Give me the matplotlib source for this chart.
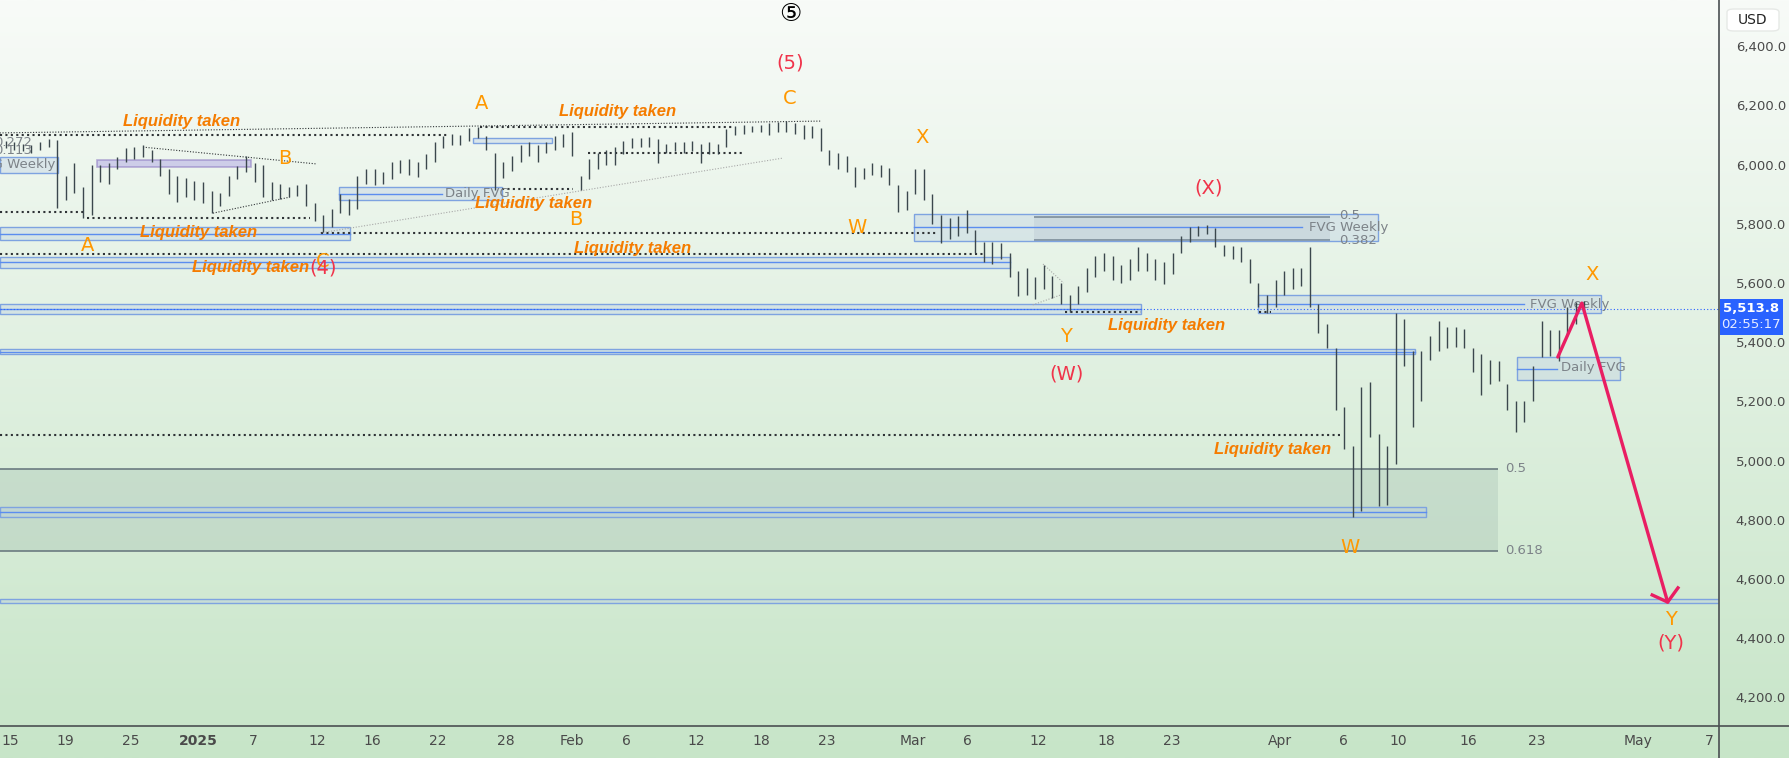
import numpy as np
import matplotlib.pyplot as plt
from matplotlib.patches import Rectangle, FancyBboxPatch
from matplotlib.lines import Line2D

plt.rcParams['font.family'] = ['DejaVu Sans', 'Noto Sans CJK JP']

# two bars per trading session, first pair is the Dec 13 session (day -1)
highs = [
    6072, 6080, 6075, 6070, 6065, 6075, 6085, 6083, 5960, 6005,
    5925, 6000, 6000, 6005, 6025, 6055, 6060, 6065, 6050, 6020,
    5985, 5960, 5955, 5945, 5940, 5910, 5905, 5960, 5995, 6030,
    6005, 6000, 5940, 5935, 5925, 5930, 5935, 5870, 5830, 5850,
    5900, 5885, 5960, 5985, 5985, 5975, 6010, 6015, 6020, 6010,
    6035, 6075, 6095, 6105, 6100, 6125, 6128, 6095, 6040, 6010,
    6030, 6065, 6076, 6065, 6075, 6095, 6105, 6110, 5960, 6020,
    6040, 6050, 6060, 6080, 6090, 6090, 6092, 6085, 6070, 6075,
    6075, 6080, 6070, 6075, 6070, 6120, 6130, 6135, 6130, 6135,
    6140, 6145, 6147, 6140, 6135, 6130, 6125, 6050, 6040, 6030,
    5992, 5990, 6005, 6000, 5990, 5930, 5910, 5985, 5985, 5900,
    5830, 5820, 5825, 5845, 5780, 5740, 5740, 5735, 5700, 5640,
    5650, 5620, 5660, 5625, 5600, 5560, 5590, 5650, 5690, 5700,
    5690, 5660, 5680, 5720, 5700, 5680, 5670, 5700, 5760, 5790,
    5792, 5795, 5785, 5730, 5725, 5720, 5680, 5600, 5560, 5610,
    5640, 5650, 5650, 5720, 5530, 5460, 5380, 5180, 5050, 5250,
    5265, 5090, 5050, 5500, 5480, 5370, 5370, 5420, 5470, 5450,
    5450, 5445, 5380, 5360, 5340, 5335, 5260, 5200, 5200, 5320,
    5470, 5440, 5440, 5520, 5535, 5540,
]
lows = [
    6048, 6055, 6050, 6045, 6040, 6050, 6060, 5853, 5880, 5905,
    5820, 5830, 5940, 5935, 5985, 6010, 6020, 6025, 6010, 5960,
    5900, 5875, 5890, 5880, 5870, 5835, 5860, 5895, 5950, 5975,
    5940, 5890, 5880, 5885, 5890, 5895, 5860, 5810, 5772, 5790,
    5835, 5830, 5850, 5935, 5930, 5935, 5950, 5970, 5965, 5958,
    5985, 6010, 6055, 6065, 6065, 6080, 6090, 6050, 5914, 5955,
    5980, 6010, 6030, 6010, 6040, 6050, 6060, 6030, 5914, 5950,
    5985, 6000, 6000, 6035, 6055, 6060, 6060, 6005, 6040, 6045,
    6040, 6045, 6005, 6035, 6035, 6060, 6100, 6105, 6110, 6110,
    6100, 6110, 6110, 6105, 6085, 6090, 6045, 6000, 5985, 5975,
    5925, 5950, 5965, 5958, 5930, 5840, 5845, 5900, 5880, 5800,
    5735, 5750, 5760, 5770, 5700, 5670, 5665, 5680, 5620, 5555,
    5560, 5545, 5580, 5550, 5530, 5502, 5530, 5570, 5620, 5640,
    5610, 5600, 5610, 5640, 5640, 5610, 5597, 5630, 5700, 5740,
    5760, 5765, 5720, 5690, 5680, 5670, 5600, 5520, 5499, 5520,
    5560, 5580, 5590, 5520, 5430, 5380, 5170, 5040, 4810, 4830,
    5080, 4845, 4850, 4990, 5320, 5115, 5200, 5340, 5370, 5380,
    5385, 5380, 5300, 5220, 5260, 5270, 5170, 5097, 5130, 5200,
    5350, 5355, 5335, 5420, 5460, 5500,
]

last_price = 5513.8
countdown = "02:55:17"
price_ticks = [4200, 4400, 4600, 4800, 5000, 5200, 5400, 5600, 5800, 6000, 6200, 6400]
time_labels = ['15', '19', '25', '2025', '7', '12', '16', '22', '28', 'Feb', '6', '12', '18',
               '23', 'Mar', '6', '12', '18', '23', 'Apr', '6', '10', '16', '23', 'May', '7']
tick_days = [0, 3.2, 7.05, 11, 14.2, 17.9, 21.1, 24.9, 28.9, 32.75, 35.9, 40, 43.8,
             47.6, 52.6, 55.8, 59.9, 63.9, 67.7, 74, 77.7, 80.9, 85, 89, 94.9, 99]

# wave labels: (day, price, text)
orange_labels = [(27.5, 6208, 'A'), (45.45, 6222, 'C'), (16.0, 6022, 'B'), (33.0, 5813, 'B'),
                 (4.5, 5725, 'A'), (18.24, 5674, 'C'), (53.15, 6093, 'X'), (49.36, 5789, 'W'),
                 (61.54, 5418, 'Y'), (92.19, 5630, 'X'), (78.1, 4708, 'W'), (96.8, 4462, 'Y')]
red_labels = [(45.45, 6343, '(5)'), (18.24, 5651, '(4)'), (69.87, 5921, '(X)'),
              (61.6, 5293, '(W)'), (96.8, 4384, '(Y)')]
liquidity_notes = [(10.0, 6147), (35.4, 6178), (30.5, 5867), (10.96, 5769), (36.3, 5718),
                   (14.0, 5651), (67.42, 5455), (73.6, 5039)]

# dotted liquidity lines: (day0, day1, price)
liq_lines = [(-0.6, 25.6, 6100), (27.4, 42.1, 6127), (33.7, 42.7, 6039), (28.7, 32.8, 5918),
             (-0.6, 4.3, 5840), (4.5, 17.5, 5820), (18.1, 54.0, 5769), (-0.6, 56.7, 5698),
             (61.5, 65.9, 5502), (72.8, 73.5, 5502), (-0.6, 77.5, 5087)]

# FVG boxes: (day0, day1, low, high, mid line end or None)
fvg_boxes = [(-0.6, 2.8, 5972, 6026, None), (19.2, 28.7, 5880, 5924, 25.2),
             (27.0, 31.6, 6073, 6090, None), (-0.6, 19.8, 5745, 5789, 19.8),
             (-0.6, 58.3, 5651, 5688, 58.3), (52.7, 79.7, 5742, 5833, 75.3),
             (-0.6, 65.9, 5495, 5529, 65.9), (72.7, 92.7, 5499, 5559, 88.2),
             (-0.6, 81.9, 5360, 5377, 81.9), (87.8, 93.8, 5272, 5350, 90.15),
             (-0.6, 82.5, 4810, 4843, 82.5), (-0.6, 100, 4519, 4533, None)]
fvg_texts = [(2.62, 5999, 'FVG Weekly', 'right'), (25.35, 5904, 'Daily FVG', 'left'),
             (75.7, 5789, 'FVG Weekly', 'left'), (88.6, 5529, 'FVG Weekly', 'left'),
             (90.4, 5313, 'Daily FVG', 'left'), (1.3, 6076, '0.272', 'right'),
             (1.3, 6046, '0.113', 'right'), (77.45, 5828, '0.5', 'left'),
             (77.45, 5745, '0.382', 'left'), (87.1, 4972, '0.5', 'left'),
             (87.1, 4695, '0.618', 'left')]

projection = [(90.2, 5350), (91.6, 5532), (96.6, 4522)]

W, H = 1789, 758
fig = plt.figure(figsize=(W / 100, H / 100), dpi=100)

# background gradient
bg = fig.add_axes([0, 0, 1, 1], zorder=0)
top_c = np.array([248, 251, 248]) / 255
bot_c = np.array([199, 229, 200]) / 255
t = np.linspace(0, 1, 256)[:, None, None]
bg.imshow(top_c * (1 - t) + bot_c * t, aspect='auto', extent=[0, 1, 0, 1])
bg.axis('off')

ax_bottom = 726
ax_right = 1719
ax = fig.add_axes([0, 1 - ax_bottom / H, ax_right / W, ax_bottom / H], zorder=1)
ax.set_facecolor('none')
for s in ax.spines.values():
    s.set_visible(False)
ax.set_xlim(-10 / 17.16, (ax_right - 10) / 17.16)
ax.set_ylim(4103.4, 6556)

# fib zone
ax.add_patch(Rectangle((-0.6, 4695), 87.3, 277, facecolor='#9db8ad', alpha=0.3, lw=0, zorder=1))
ax.hlines([4972, 4695], -0.6, 86.7, color='#6b7b80', lw=1.2, zorder=2)
# inner fib zone of the upper weekly FVG
ax.add_patch(Rectangle((59.7, 5745), 17.2, 78, facecolor='#8fa3ad', alpha=0.2, lw=0, zorder=1))
ax.hlines([5823, 5745], 59.7, 76.9, color='#5d6d73', lw=1.2, zorder=2)

for x0, x1, lo, hi, mid in fvg_boxes:
    ax.add_patch(Rectangle((x0, lo), x1 - x0, hi - lo, facecolor='#b7c9e2', alpha=0.35,
                           edgecolor='none', zorder=2))
    ax.add_patch(Rectangle((x0, lo), x1 - x0, hi - lo, facecolor='none',
                           edgecolor='#7ea3e0', lw=1.0, zorder=3))
    if mid is not None:
        ax.plot([x0, mid], [(lo + hi) / 2] * 2, color='#5b8def', lw=1.0, zorder=3)

# purple box
ax.add_patch(Rectangle((5.07, 5992), 9.0, 24, facecolor='#b9b3e6', alpha=0.6,
                       edgecolor='#8e7cc3', lw=1.2, zorder=3))

for x, y, s, ha in fvg_texts:
    ax.text(x, y, s, color='#7c8288', fontsize=9.5, ha=ha, va='center', zorder=4)

for x0, x1, p in liq_lines:
    ax.plot([x0, x1], [p, p], color='#2f3336', lw=1.5, ls=(0, (1, 1.6)), zorder=3)

# fine trend lines
ax.plot([-0.6, 47.3], [6107, 6147], color='#2f3336', lw=0.8, ls=(0, (1, 1.5)), zorder=3)
ax.plot([18.07, 45.05], [5769, 6022], color='#a8a8a8', lw=0.8, ls=(0, (1, 1.5)), zorder=3)
ax.plot([7.75, 17.9], [6059, 6002], color='#2f3336', lw=0.8, ls=(0, (1, 1.5)), zorder=3)
ax.plot([11.83, 16.3], [5836, 5890], color='#2f3336', lw=0.8, ls=(0, (1, 1.5)), zorder=3)
ax.plot([60.2, 61.4], [5664, 5600], color='#a8a8a8', lw=0.8, ls=(0, (1, 1.5)), zorder=3)
ax.plot([59.6, 61.2], [5526, 5559], color='#a8a8a8', lw=0.8, ls=(0, (1, 1.5)), zorder=3)

# price bars
bar_x = np.arange(len(highs)) / 2 - 0.75
ax.vlines(bar_x, lows, highs, color='#3b474d', lw=1.0, zorder=5)

# current price line
ax.axhline(last_price, color='#2962ff', lw=0.8, ls=(0, (1, 2)), zorder=4)

# projection path
px, py = zip(*projection)
ax.plot(px, py, color='#e91e63', lw=2.4, zorder=6, solid_capstyle='round')
ax.plot([95.7, px[-1], 97.2], [4546, py[-1], 4570], color='#e91e63', lw=2.4, zorder=6)

for x, y, s in orange_labels:
    ax.text(x, y, s, color='#ff9800', fontsize=14, ha='center', va='center', zorder=7)
for x, y, s in red_labels:
    ax.text(x, y, s, color='#f0334a', fontsize=14, ha='center', va='center', zorder=7)
for x, y in liquidity_notes:
    ax.text(x, y, 'Liquidity taken', color='#f57c00', fontsize=12, fontweight='bold',
            style='italic', family=['Liberation Sans', 'DejaVu Sans'], ha='center',
            va='center', zorder=7)
ax.text(45.45, 6509, '\u2464', color='black', fontsize=18, ha='center', va='center', zorder=7)

# axes ticks
ax.set_yticks(price_ticks)
ax.set_yticklabels([f'{p:,.1f}' for p in price_ticks])
ax.yaxis.set_ticks_position('right')
ax.tick_params(axis='y', length=0, pad=12, labelsize=9.5, labelcolor='#4a4a4a')
ax.set_xticks(tick_days)
ax.set_xticklabels(time_labels, family=['Liberation Sans Narrow', 'DejaVu Sans'])
ax.tick_params(axis='x', length=0, pad=6, labelsize=10, labelcolor='#4a4a4a')
for lab in ax.get_xticklabels():
    if lab.get_text() == '2025':
        lab.set_fontweight('bold')

fig.add_artist(Line2D([0, 1], [1 - ax_bottom / H] * 2, transform=fig.transFigure,
                      color='#4a4f52', lw=1.2))
fig.add_artist(Line2D([ax_right / W] * 2, [0, 1], transform=fig.transFigure,
                      color='#4a4f52', lw=1.2))

# last price tag
y_disp = ax.transData.transform((0, last_price))[1]
tag_top = (y_disp + 10) / H
fig.add_artist(Rectangle(((ax_right + 1) / W, tag_top - 36 / H), 63 / W, 36 / H,
                         transform=fig.transFigure, facecolor='#2962ff', edgecolor='none',
                         zorder=5))
fig.text((ax_right + 32) / W, (y_disp) / H, f'{last_price:,.1f}', color='white',
         fontsize=9.5, fontweight='bold', ha='center', va='center', zorder=6)
fig.text((ax_right + 32) / W, (y_disp - 16) / H, countdown, color='#e6ecff',
         fontsize=9.5, ha='center', va='center', zorder=6)

# currency box
fig.add_artist(FancyBboxPatch(((ax_right + 8) / W, 1 - 31 / H), 52 / W, 22 / H,
                              boxstyle='round,pad=0,rounding_size=0.004',
                              transform=fig.transFigure, facecolor='white',
                              edgecolor='#e6e9e6', lw=1, zorder=5))
fig.text((ax_right + 34) / W, 1 - 20 / H, 'USD', color='#222', fontsize=10,
         ha='center', va='center', zorder=6)

fig.savefig('out.png', dpi=100)
